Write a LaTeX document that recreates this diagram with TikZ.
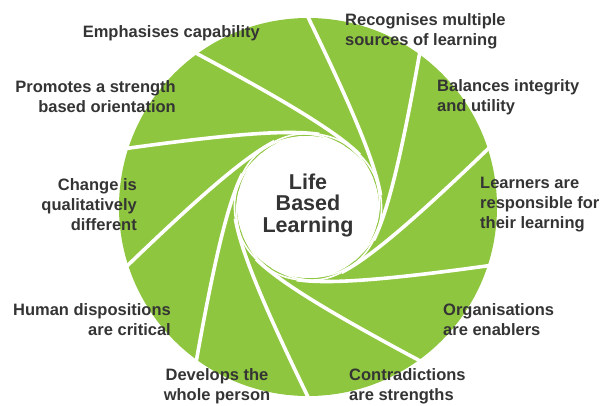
\documentclass[tikz,border=0pt]{standalone}
\usepackage{fontspec}
\setmainfont{Liberation Sans}

\definecolor{leaf}{RGB}{143,198,63}
\definecolor{ink}{RGB}{52,52,52}

\begin{document}
\begin{tikzpicture}[x=1pt, y=1pt,
	gap/.style={white, line width=3.6pt},
	tipgap/.style={white, line width=1.6pt},
	lbl/.style={inner sep=0pt, text=ink, font=\bfseries\fontsize{16.5}{20}\selectfont}]
\useasboundingbox (-308,-198) rectangle (305,207);

% blades: green disc cut by the white gaps
\fill[leaf] (0,0) circle (189);
\foreach \a in {91,55,...,-233}{
	\coordinate(rim\a) at (\a:197);
	\coordinate(touch\a) at (\a-82:73.5);
	\coordinate(tip\a) at (\a-140:70.5);
	\draw[gap] (rim\a) .. controls +(\a-155:110) and +(\a+8:32) .. (touch\a);
	\draw[tipgap] (touch\a) to[out=\a-172, in=\a-50] (tip\a);
}
\fill[white] (0,0) circle (71);

\node[align=center, text=ink, inner sep=0pt, font=\bfseries\fontsize{21.5}{21.5}\selectfont] (core) at (0,2) {Life\\Based\\Learning};

\node[lbl, anchor=east] (capability) at (-48,174) {Emphasises capability};
\node[lbl, anchor=west, align=left] (sources) at (37,176) {Recognises multiple\\sources of learning};
\node[lbl, anchor=west, align=left] (integrity) at (129,110) {Balances integrity\\and utility};
\node[lbl, anchor=west, align=left] (learners) at (172,2) {Learners are\\responsible for\\their learning};
\node[lbl, anchor=west, align=left] (enablers) at (135,-113) {Organisations\\are enablers};
\node[lbl, anchor=west, align=left] (strengths) at (41,-179) {Contradictions\\are strengths};
\node[lbl, align=center] (person) at (-91,-179) {Develops the\\whole person};
\node[lbl, anchor=east, align=right] (dispositions) at (-137,-113) {Human dispositions\\are critical};
\node[lbl, anchor=east, align=right] (change) at (-171,2) {Change is\\qualitatively\\different};
\node[lbl, anchor=east, align=right] (orientation) at (-132,110) {Promotes a strength\\based orientation};
\end{tikzpicture}
\end{document}
